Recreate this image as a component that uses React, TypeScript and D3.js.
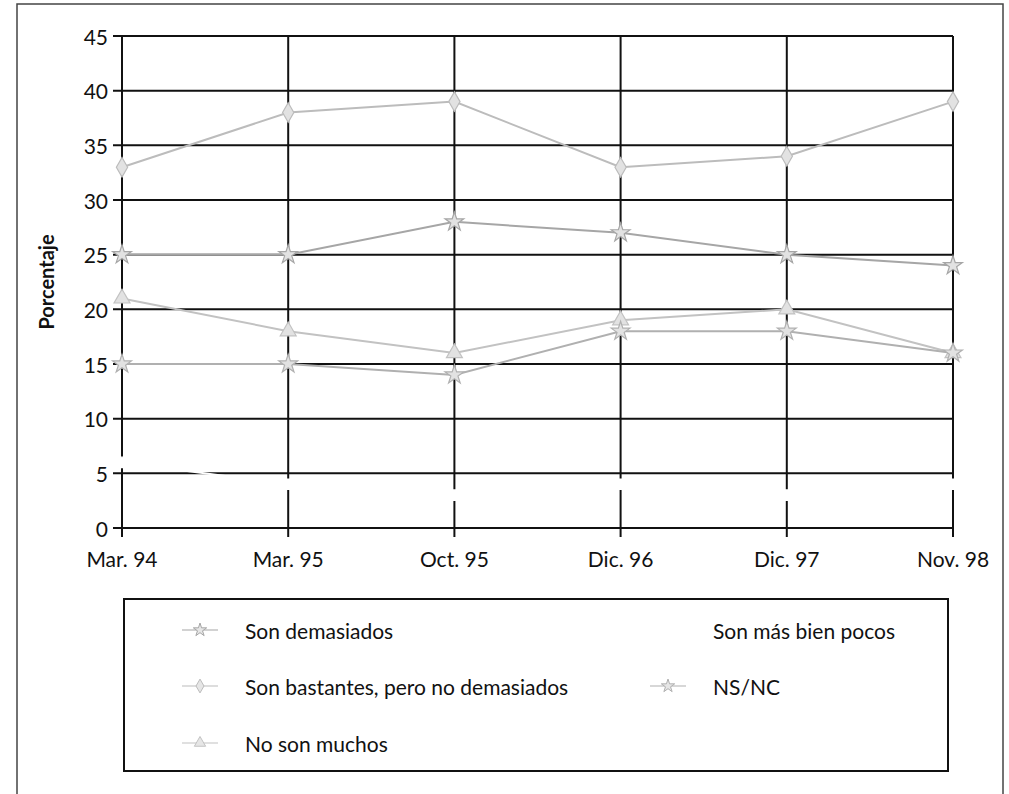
import React from 'react';
import * as d3 from 'd3';

const categories = ['Mar. 94', 'Mar. 95', 'Oct. 95', 'Dic. 96', 'Dic. 97', 'Nov. 98'];
const yTicks = [0, 5, 10, 15, 20, 25, 30, 35, 40, 45];

const sonDemasiados = [25, 25, 28, 27, 25, 24];
const sonBastantes = [33, 38, 39, 33, 34, 39];
const noSonMuchos = [21, 18, 16, 19, 20, 16];
const masBienPocos = [6, 4, 3, 4, 3, 4];
const nsnc = [15, 15, 14, 18, 18, 16];

const seriesNames = [
  'Son demasiados',
  'Son bastantes, pero no demasiados',
  'No son muchos',
  'Son más bien pocos',
  'NS/NC',
];
const seriesValues = [sonDemasiados, sonBastantes, noSonMuchos, masBienPocos, nsnc];
const seriesColors = ['#a6a6a6', '#bcbcbc', '#c2c2c2', '#ffffff', '#b0b0b0'];
const seriesSymbols = [d3.symbolStar, d3.symbolDiamond, d3.symbolTriangle, d3.symbolSquare, d3.symbolStar];

const FONT = 'Lato, "DejaVu Sans", sans-serif';

export default function App() {
  const width = 1009;
  const height = 794;
  const left = 122;
  const right = 953;
  const top = 36;
  const bottom = 528;

  const x = d3.scalePoint<string>().domain(categories).range([left, right]).padding(0);
  const y = d3.scaleLinear().domain([0, 45]).range([bottom, top]);

  const line = d3
    .line<number>()
    .x((_, i) => x(categories[i]) as number)
    .y(d => y(d));

  const sym = (s: d3.SymbolType, size: number) => d3.symbol().type(s).size(size)() as string;

  // legend laid out column by column, three rows
  const legendRows = [630, 686, 743];
  const legendCols = [{ mark: 200, text: 245 }, { mark: 668, text: 713 }];

  return (
    <svg width={width} height={height} style={{ position: 'absolute', left: 0, top: 0, background: '#fff' }}>
      <rect x={17} y={4} width={986} height={800} fill="none" stroke="#444" strokeWidth={1.5} />

      {/* grid */}
      {yTicks.map(t => (
        <line key={'h' + t} x1={left - 9} x2={right} y1={y(t)} y2={y(t)} stroke="#111" strokeWidth={2} />
      ))}
      {categories.map(c => (
        <line key={'v' + c} x1={x(c)} x2={x(c)} y1={top} y2={bottom + 9} stroke="#111" strokeWidth={2} />
      ))}

      {/* series */}
      {seriesValues.map((vals, si) => (
        <g key={seriesNames[si]}>
          <path d={line(vals) as string} fill="none" stroke={seriesColors[si]} strokeWidth={2} />
          {vals.map((v, i) => (
            <path
              key={i}
              d={sym(seriesSymbols[si], 110)}
              transform={`translate(${x(categories[i])},${y(v)})`}
              fill={si === 3 ? '#fff' : '#e2e2e2'}
              stroke={si === 3 ? '#fff' : seriesColors[si]}
              strokeWidth={1.2}
            />
          ))}
        </g>
      ))}

      {/* axes text */}
      {yTicks.map(t => (
        <text key={'yt' + t} x={108} y={y(t)} textAnchor="end" dominantBaseline="central" fontFamily={FONT} fontSize={21} fill="#111">
          {t}
        </text>
      ))}
      {categories.map(c => (
        <text key={'xt' + c} x={x(c)} y={567} textAnchor="middle" fontFamily={FONT} fontSize={21} fill="#111">
          {c}
        </text>
      ))}
      <text
        transform="translate(54,282) rotate(-90)"
        textAnchor="middle"
        fontFamily={FONT}
        fontWeight="bold"
        fontSize={20}
        fill="#111"
      >
        Porcentaje
      </text>

      {/* legend */}
      <rect x={124} y={599} width={824} height={172} fill="none" stroke="#111" strokeWidth={2} />
      {seriesNames.map((name, si) => {
        const col = legendCols[Math.floor(si / 3)];
        const row = legendRows[si % 3];
        return (
          <g key={'lg' + name}>
            {si !== 3 && (
              <>
                <line x1={col.mark - 18} x2={col.mark + 18} y1={row} y2={row} stroke={seriesColors[si]} strokeWidth={1.2} />
                <path
                  d={sym(seriesSymbols[si], 55)}
                  transform={`translate(${col.mark},${row})`}
                  fill="#e6e6e6"
                  stroke={seriesColors[si]}
                />
              </>
            )}
            <text x={col.text} y={row} dominantBaseline="central" fontFamily={FONT} fontSize={21} fill="#111">
              {name}
            </text>
          </g>
        );
      })}
    </svg>
  );
}
